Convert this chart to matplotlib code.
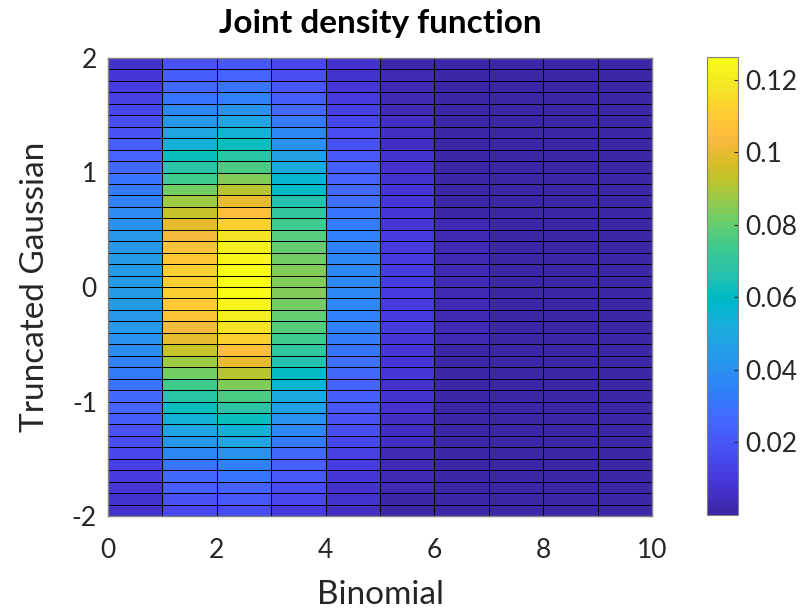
import numpy as np
import matplotlib
matplotlib.use("Agg")
import matplotlib.pyplot as plt
from matplotlib.colors import ListedColormap

plt.rcParams['font.family'] = ['Lato', 'DejaVu Sans']
plt.rcParams['axes.unicode_minus'] = False

# Binomial marginal (values for columns 0..9)
binom_k = [0, 1, 2, 3, 4, 5, 6, 7, 8, 9, 10]
binom_p = [0.1074, 0.2684, 0.3020, 0.2013, 0.0881, 0.0264, 0.0055, 0.00079, 0.000074, 0.0000041]

# Truncated Gaussian marginal at y = -2.0, -1.9, ..., 1.9
y_edges = [round(-2.0 + 0.1 * i, 1) for i in range(41)]
gauss_half = [0.0566, 0.0687, 0.0827, 0.0985, 0.1162, 0.1357, 0.1569, 0.1795,
              0.2035, 0.2282, 0.2535, 0.2788, 0.3035, 0.3271, 0.3491, 0.3689,
              0.3858, 0.3996, 0.4097, 0.4159, 0.4180]
gauss_vals = gauss_half + gauss_half[-2:0:-1]  # -2.0 ... 1.9 (40 values)

C = np.outer(gauss_vals, binom_p)

parula64 = [
[0.2422,0.1504,0.6603],[0.2504,0.1650,0.7076],[0.2578,0.1818,0.7511],[0.2647,0.1978,0.7952],
[0.2706,0.2147,0.8364],[0.2751,0.2342,0.8710],[0.2783,0.2559,0.8991],[0.2803,0.2782,0.9221],
[0.2813,0.3006,0.9414],[0.2810,0.3228,0.9579],[0.2795,0.3447,0.9717],[0.2760,0.3667,0.9829],
[0.2699,0.3892,0.9906],[0.2602,0.4123,0.9952],[0.2440,0.4358,0.9988],[0.2206,0.4603,0.9973],
[0.1963,0.4847,0.9892],[0.1834,0.5074,0.9798],[0.1786,0.5289,0.9682],[0.1764,0.5499,0.9520],
[0.1687,0.5703,0.9359],[0.1540,0.5902,0.9218],[0.1460,0.6091,0.9079],[0.1380,0.6276,0.8973],
[0.1248,0.6459,0.8883],[0.1113,0.6635,0.8763],[0.0952,0.6798,0.8598],[0.0689,0.6948,0.8394],
[0.0297,0.7082,0.8163],[0.0036,0.7203,0.7917],[0.0067,0.7312,0.7660],[0.0433,0.7411,0.7394],
[0.0964,0.7500,0.7120],[0.1408,0.7584,0.6842],[0.1717,0.7670,0.6554],[0.1938,0.7758,0.6251],
[0.2161,0.7843,0.5923],[0.2470,0.7918,0.5567],[0.2906,0.7973,0.5188],[0.3406,0.8008,0.4789],
[0.3909,0.8029,0.4354],[0.4456,0.8024,0.3909],[0.5044,0.7993,0.3480],[0.5616,0.7942,0.3045],
[0.6174,0.7876,0.2612],[0.6720,0.7793,0.2227],[0.7242,0.7698,0.1910],[0.7738,0.7598,0.1646],
[0.8203,0.7498,0.1535],[0.8634,0.7406,0.1596],[0.9035,0.7330,0.1774],[0.9393,0.7288,0.2100],
[0.9728,0.7298,0.2394],[0.9956,0.7434,0.2371],[0.9970,0.7659,0.2199],[0.9952,0.7893,0.2028],
[0.9892,0.8136,0.1885],[0.9786,0.8386,0.1766],[0.9676,0.8639,0.1643],[0.9610,0.8890,0.1537],
[0.9597,0.9135,0.1423],[0.9628,0.9373,0.1265],[0.9691,0.9606,0.1064],[0.9769,0.9839,0.0805]]
parula = ListedColormap(parula64, name='parula')

fig = plt.figure(figsize=(8.05, 6.13), dpi=100)
ax = fig.add_axes([108/805, 1-516/613, (652-108)/805, (516-58)/613])
cax = fig.add_axes([707/805, 1-515/613, (738-707)/805, (515-57)/613])

mesh = ax.pcolormesh(binom_k, y_edges, C, cmap=parula,
                     vmin=C.min(), vmax=C.max(),
                     edgecolors='#000000', linewidth=0.7)
ax.set_xlim(0, 10)
ax.set_ylim(-2, 2)
ax.set_xticks([0, 2, 4, 6, 8, 10])
ax.set_yticks([-2, -1, 0, 1, 2])
ax.tick_params(direction='in', labelsize=19, colors='#262626', length=0)
ax.tick_params(axis='x', pad=16)
ax.tick_params(axis='y', pad=8)
for s in ax.spines.values():
    s.set_color('#808080')
    s.set_linewidth(1.0)
ax.set_xlabel('Binomial', fontsize=24, color='#262626', labelpad=12)
ax.set_ylabel('Truncated Gaussian', fontsize=24, color='#262626', labelpad=16)
ax.set_title('Joint density function', fontsize=24, fontweight='bold', pad=18)

cb = fig.colorbar(mesh, cax=cax)
cb.set_ticks([0.02, 0.04, 0.06, 0.08, 0.1, 0.12])
cb.set_ticklabels(['0.02', '0.04', '0.06', '0.08', '0.1', '0.12'])
cb.ax.tick_params(direction='in', labelsize=19, colors='#262626', length=3, pad=5)
cb.outline.set_edgecolor('#808080')

fig.savefig('out.png', dpi=100)
